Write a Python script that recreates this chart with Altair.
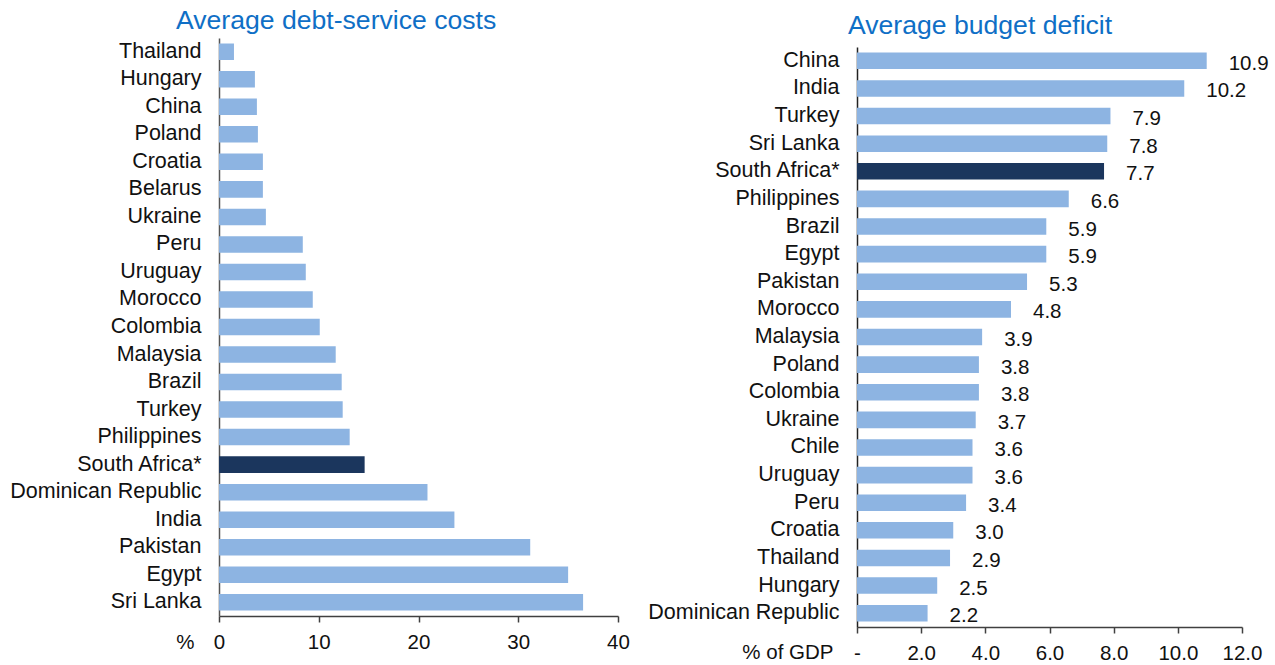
import altair as alt
import pandas as pd

debt_countries = ["Thailand", "Hungary", "China", "Poland", "Croatia", "Belarus", "Ukraine",
                  "Peru", "Uruguay", "Morocco", "Colombia", "Malaysia", "Brazil", "Turkey",
                  "Philippines", "South Africa*", "Dominican Republic", "India", "Pakistan",
                  "Egypt", "Sri Lanka"]
debt_values = [1.5, 3.6, 3.8, 3.9, 4.4, 4.4, 4.7, 8.4, 8.7, 9.4, 10.1, 11.7, 12.3, 12.4,
               13.1, 14.6, 20.9, 23.6, 31.2, 35.0, 36.5]

deficit_countries = ["China", "India", "Turkey", "Sri Lanka", "South Africa*", "Philippines",
                     "Brazil", "Egypt", "Pakistan", "Morocco", "Malaysia", "Poland", "Colombia",
                     "Ukraine", "Chile", "Uruguay", "Peru", "Croatia", "Thailand", "Hungary",
                     "Dominican Republic"]
deficit_values = [10.9, 10.2, 7.9, 7.8, 7.7, 6.6, 5.9, 5.9, 5.3, 4.8, 3.9, 3.8, 3.8, 3.7,
                  3.6, 3.6, 3.4, 3.0, 2.9, 2.5, 2.2]

debt_ticks = [0, 10, 20, 30, 40]
deficit_ticks = [0, 2, 4, 6, 8, 10, 12]
highlight = "South Africa*"

FONT = "Liberation Sans"
LIGHT = "#8DB4E2"
DARK = "#1B365D"
TITLE_BLUE = "#0F6FC6"
AXIS = "#404040"
TEXT = "#111111"

debt_df = pd.DataFrame({"country": debt_countries, "value": debt_values})
deficit_df = pd.DataFrame({"country": deficit_countries, "value": deficit_values})

bar_color = alt.condition(alt.datum.country == highlight, alt.value(DARK), alt.value(LIGHT))


def y_axis(domain_color):
    return alt.Axis(title=None, ticks=False, labelFontSize=21.5, labelPadding=18,
                    labelColor=TEXT, domainColor=domain_color, domainWidth=1.5,
                    labelFont=FONT, labelLimit=400)


def x_axis(values, title, title_x, title_y, **kw):
    return alt.Axis(values=values, grid=False, title=title, titleX=title_x, titleY=title_y,
                    titleAlign="right", titleBaseline="middle",
                    titleFontWeight="normal", titleFontSize=20.5, titleFont=FONT,
                    titleColor=TEXT, labelFontSize=20.5, labelFont=FONT,
                    labelColor=TEXT, labelFlush=False, labelOverlap=False,
                    tickSize=6, tickColor=AXIS, tickWidth=1.5,
                    domainColor=AXIS, domainWidth=1.5, labelPadding=10, **kw)


left = alt.Chart(debt_df).mark_bar().encode(
    x=alt.X("value:Q", scale=alt.Scale(domain=[0, 40], nice=False),
            axis=x_axis(debt_ticks, "%", -25, 26, format="d")),
    y=alt.Y("country:N", sort=debt_countries,
            scale=alt.Scale(paddingInner=0.4, paddingOuter=0.2), axis=y_axis("#555555")),
    color=bar_color,
).properties(
    width=399, height=578,
    title=alt.TitleParams("Average debt-service costs", anchor="start", frame="group",
                          dx=-43, fontSize=26.6, font=FONT, color=TITLE_BLUE,
                          fontWeight="normal", offset=3),
)

base_r = alt.Chart(deficit_df).encode(
    y=alt.Y("country:N", sort=deficit_countries,
            scale=alt.Scale(paddingInner=0.4, paddingOuter=0.2, range=[9, 589]),
            axis=y_axis("#222222")),
)

bars_r = base_r.mark_bar().encode(
    x=alt.X("value:Q", scale=alt.Scale(domain=[0, 12], nice=False),
            axis=x_axis(deficit_ticks, "% of GDP", -24, 25,
                        labelExpr="datum.value == 0 ? '-' : format(datum.value, '.1f')")),
    color=bar_color,
)

labels_r = base_r.mark_text(align="left", baseline="middle", dx=22, dy=3, fontSize=20.5,
                            font=FONT, color=TEXT).encode(
    x="value:Q",
    text=alt.Text("value:Q", format=".1f"),
)

right = alt.layer(bars_r, labels_r).properties(
    width=385, height=589,
    title=alt.TitleParams("Average budget deficit", anchor="start", frame="group",
                          dx=-9, dy=4.4, fontSize=26.6, font=FONT, color=TITLE_BLUE,
                          fontWeight="normal", offset=3),
)

chart = alt.hconcat(left, right, spacing=17).properties(
    padding={"left": 9, "top": 8, "right": 3, "bottom": 3},
).configure_view(stroke=None)

chart.save("out.html", embed_options={"renderer": "svg", "actions": False})
